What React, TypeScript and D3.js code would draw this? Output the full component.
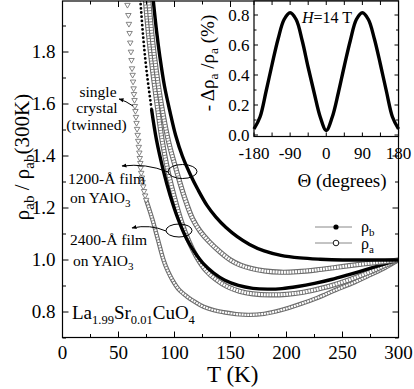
import * as d3 from "d3";

// main panel: rho / rho(300K) against T
const tTicks = [0, 50, 100, 150, 200, 250, 300];
const tMinor = [25, 75, 125, 175, 225, 275];
const rTicks = [0.8, 1.0, 1.2, 1.4, 1.6, 1.8];
const rMinor = [0.7, 0.9, 1.1, 1.3, 1.5, 1.7, 1.9];

// 1200-A film, rho_b (filled) and rho_a (open)
const b1200T = [81, 84, 87, 91, 96, 101, 107, 114, 121, 129, 137, 146, 156, 167, 180, 195, 212, 230, 250, 275, 300];
const b1200R = [2.0, 1.88, 1.78, 1.67, 1.57, 1.48, 1.4, 1.33, 1.27, 1.21, 1.165, 1.125, 1.09, 1.06, 1.035, 1.018, 1.008, 1.003, 1.0, 1.0, 1.0];
const a1200T = [77, 80, 84, 89, 95, 102, 109, 116, 123, 131, 141, 150, 159, 168, 180, 195, 210, 227, 245, 265, 284, 300];
const a1200R = [2.0, 1.86, 1.72, 1.58, 1.45, 1.34, 1.24, 1.16, 1.11, 1.07, 1.03, 1.0, 0.98, 0.968, 0.958, 0.953, 0.955, 0.962, 0.972, 0.983, 0.992, 1.0];

// 2400-A film
const b2400T = [69.5, 72, 75, 79.5, 84, 90, 96, 103, 111, 118, 126, 135, 145, 157, 170, 183, 196, 210, 225, 240, 255, 270, 285, 300];
const b2400R = [2.0, 1.86, 1.73, 1.58, 1.46, 1.345, 1.25, 1.16, 1.08, 1.03, 0.985, 0.95, 0.922, 0.902, 0.891, 0.888, 0.89, 0.898, 0.91, 0.925, 0.943, 0.962, 0.981, 1.0];
const a2400T = [74, 77, 81, 85, 89, 94, 100, 106, 113, 120, 128, 137, 147, 158, 170, 185, 200, 215, 230, 245, 260, 275, 290, 300];
const a2400R = [2.0, 1.86, 1.71, 1.58, 1.46, 1.345, 1.24, 1.15, 1.07, 1.01, 0.96, 0.925, 0.898, 0.88, 0.87, 0.866, 0.868, 0.876, 0.89, 0.908, 0.93, 0.955, 0.983, 1.0];

// single crystal (twinned): sparse triangles at the steep part, then dense points
const scTriT = [58.0, 58.8, 59.3, 59.9, 60.5, 61.1, 61.6, 62.1, 62.6, 63.0, 63.5, 63.8, 64.3, 64.6, 65.1, 65.6, 66.1, 66.6, 67.1, 67.6, 68.1, 68.6, 69.0, 69.5, 69.8, 70.3, 70.9, 71.5, 72.1, 72.8, 73.8, 74.7];
const scTriR = [1.981, 1.942, 1.908, 1.873, 1.836, 1.801, 1.769, 1.737, 1.712, 1.686, 1.66, 1.638, 1.615, 1.592, 1.573, 1.55, 1.527, 1.504, 1.481, 1.458, 1.435, 1.413, 1.392, 1.373, 1.354, 1.335, 1.317, 1.3, 1.283, 1.265, 1.248, 1.231];
const scT = [74.7, 77.7, 80.4, 85.3, 90.2, 94, 98.2, 104, 111.3, 119, 126, 135, 144, 155, 166, 180, 195, 212, 228, 244, 260, 275, 288, 300];
const scR = [1.231, 1.192, 1.154, 1.077, 1.0, 0.958, 0.923, 0.886, 0.859, 0.837, 0.82, 0.807, 0.799, 0.792, 0.789, 0.793, 0.807, 0.83, 0.855, 0.885, 0.913, 0.943, 0.97, 1.0];

// inset: -drho_a/rho_a (%) against field angle at H = 14 T
const thetaTicks = [-180, -90, 0, 90, 180];
const thetaMinor = [-135, -45, 45, 135];
const dTicks = [0, 0.2, 0.4, 0.6, 0.8];
const dMinor = [0.1, 0.3, 0.5, 0.7];
const theta = [-180, -165, -150, -135, -120, -105, -90, -75, -60, -45, -30, -15, 0, 15, 30, 45, 60, 75, 90, 105, 120, 135, 150, 165, 180];
const dRho = [0.04, 0.12, 0.29, 0.47, 0.64, 0.77, 0.815, 0.77, 0.63, 0.45, 0.28, 0.12, 0.03, 0.12, 0.28, 0.46, 0.63, 0.77, 0.815, 0.77, 0.64, 0.47, 0.29, 0.12, 0.04];

const FONT = "'Liberation Serif', 'Times New Roman', 'DejaVu Serif', serif";

function zip(a: number[], b: number[]): [number, number][] {
  return a.map((v, i) => [v, b[i]]);
}

export default function App() {
  const W = 414, H = 389;
  const L = 62.5, R = 398.5, T0 = 1, B = 337.5;
  const x = d3.scaleLinear().domain([0, 300]).range([L, R]);
  const y = d3.scaleLinear().domain([0.7, 2.0]).range([338, 0]);

  const line = d3.line<[number, number]>()
    .x(d => x(d[0]))
    .y(d => y(d[1]))
    .curve(d3.curveCatmullRom.alpha(0.5));

  // inset scales
  const iL = 254, iR = 398.5, iT = 1, iB = 136.5;
  const ix = d3.scaleLinear().domain([-180, 180]).range([iL, iR]);
  const iy = d3.scaleLinear().domain([0, 0.8]).range([135, 15]);
  const iline = d3.line<[number, number]>()
    .x(d => ix(d[0]))
    .y(d => iy(d[1]))
    .curve(d3.curveCatmullRom.alpha(0.5));

  const tri = d3.symbol().type(d3.symbolTriangle).size(13)();

  const openChain = (pts: [number, number][], w: number) => {
    const p = line(pts) || "";
    return (
      <g>
        <path d={p} fill="none" stroke="#6c6c6c" strokeWidth={w} />
        <path d={p} fill="none" stroke="#fff" strokeWidth={w - 2.2} strokeDasharray="2 0.8" />
      </g>
    );
  };

  // filled-dot series: sparse dots where the curve is steep, solid below
  const b2400 = zip(b2400T, b2400R);
  const b2400Top = b2400.filter(d => d[1] >= 1.58);
  const b2400Low = b2400.filter(d => d[1] <= 1.58);

  return (
    <svg width={W} height={H}
      style={{ position: "absolute", left: 0, top: 0, background: "#fff", fontFamily: FONT }}>
      <defs>
        <clipPath id="main">
          <rect x={L} y={T0} width={R - L} height={B - T0} />
        </clipPath>
        <marker id="ah" viewBox="0 0 10 10" refX="9" refY="5" markerWidth="5" markerHeight="5" orient="auto">
          <path d="M0,1 L10,5 L0,9 z" fill="#000" />
        </marker>
      </defs>

      {/* curves */}
      <g clipPath="url(#main)">
        {openChain(zip(scT, scR), 4.4)}
        {zip(scTriT, scTriR).map((d, i) => (
          <path key={i} d={tri} transform={`translate(${x(d[0])},${y(d[1])}) rotate(180)`}
            fill="#fff" stroke="#666" strokeWidth={0.8} />
        ))}
        {openChain(zip(a2400T, a2400R), 5.2)}
        <path d={line(b2400Top) || ""} fill="none" stroke="#000" strokeWidth={2.8}
          strokeLinecap="round" strokeDasharray="0 4.2" />
        <path d={line(b2400Low) || ""} fill="none" stroke="#000" strokeWidth={3.4} />
        {openChain(zip(a1200T, a1200R), 5.2)}
        <path d={line(zip(b1200T, b1200R)) || ""} fill="none" stroke="#000" strokeWidth={3.4} />
      </g>

      {/* frame and ticks */}
      <rect x={L} y={T0} width={R - L} height={B - T0} fill="none" stroke="#000" strokeWidth={1.2} />
      {tTicks.map(t => (
        <g key={"tx" + t}>
          <line x1={x(t)} x2={x(t)} y1={B} y2={B - 6} stroke="#000" />
          <line x1={x(t)} x2={x(t)} y1={T0} y2={T0 + 6} stroke="#000" />
          <text x={x(t)} y={358.5} fontSize={19} textAnchor="middle">{t}</text>
        </g>
      ))}
      {tMinor.map(t => (
        <g key={"tm" + t}>
          <line x1={x(t)} x2={x(t)} y1={B} y2={B - 3.5} stroke="#000" />
          <line x1={x(t)} x2={x(t)} y1={T0} y2={T0 + 3.5} stroke="#000" />
        </g>
      ))}
      {rTicks.map(r => (
        <g key={"ry" + r}>
          <line x1={L} x2={L + 6} y1={y(r)} y2={y(r)} stroke="#000" />
          <line x1={R} x2={R - 6} y1={y(r)} y2={y(r)} stroke="#000" />
          <text x={55.5} y={y(r) + 6} fontSize={19} textAnchor="end">{r.toFixed(1)}</text>
        </g>
      ))}
      {rMinor.map(r => (
        <g key={"rm" + r}>
          <line x1={L} x2={L + 3.5} y1={y(r)} y2={y(r)} stroke="#000" />
          <line x1={R} x2={R - 3.5} y1={y(r)} y2={y(r)} stroke="#000" />
        </g>
      ))}

      {/* axis titles */}
      <text x={207} y={382} fontSize={23}>T  (K)</text>
      <text transform="translate(29,157) rotate(-90)" fontSize={21} textAnchor="middle">
        ρ<tspan fontSize={15} dy={5}>ab</tspan><tspan dy={-5}> / ρ</tspan><tspan fontSize={15} dy={5}>ab</tspan><tspan dy={-5}>(300K)</tspan>
      </text>

      {/* annotations */}
      <g fontSize={15.5}>
        <text x={98} y={97} textAnchor="middle">single</text>
        <text x={97} y={113} textAnchor="middle">crystal</text>
        <text x={96.5} y={130} textAnchor="middle">(twinned)</text>
        <text x={68} y={184}>1200-Å film</text>
        <text x={70} y={203}>on YAlO<tspan fontSize={11} dy={4}>3</tspan></text>
        <text x={70} y={245}>2400-Å film</text>
        <text x={73} y={266}>on YAlO<tspan fontSize={11} dy={4}>3</tspan></text>
      </g>
      <path d="M133,106 Q126,101 119,99" fill="none" stroke="#000" strokeWidth={1} markerEnd="url(#ah)" />
      <ellipse cx={182.5} cy={171.5} rx={14.5} ry={7} fill="none" stroke="#000" strokeWidth={1} />
      <path d="M168,172 Q146,163 122,166" fill="none" stroke="#000" strokeWidth={1} markerEnd="url(#ah)" />
      <ellipse cx={179} cy={230.5} rx={13} ry={6.5} fill="none" stroke="#000" strokeWidth={1} />
      <path d="M166,231 Q150,224 132,228" fill="none" stroke="#000" strokeWidth={1} markerEnd="url(#ah)" />
      <text x={72} y={319} fontSize={19}>
        La<tspan fontSize={12.5} dy={5}>1.99</tspan><tspan dy={-5}>Sr</tspan><tspan fontSize={12.5} dy={5}>0.01</tspan><tspan dy={-5}>CuO</tspan><tspan fontSize={12.5} dy={5}>4</tspan>
      </text>

      {/* legend */}
      <line x1={315} x2={352} y1={227} y2={227} stroke="#888" strokeWidth={1} />
      <circle cx={336} cy={227} r={2.6} fill="#000" />
      <text x={361} y={231.5} fontSize={16}>ρ<tspan fontSize={11} dy={4}>b</tspan></text>
      <line x1={315} x2={352} y1={243} y2={243} stroke="#888" strokeWidth={1} />
      <circle cx={336} cy={243} r={2.8} fill="#fff" stroke="#000" strokeWidth={0.9} />
      <text x={361} y={249} fontSize={16}>ρ<tspan fontSize={11} dy={4}>a</tspan></text>

      {/* inset */}
      <rect x={iL} y={iT} width={iR - iL} height={iB - iT} fill="#fff" />
      <path d={iline(zip(theta, dRho)) || ""} fill="none" stroke="#000" strokeWidth={3.4} />
      <rect x={iL} y={iT} width={iR - iL} height={iB - iT} fill="none" stroke="#000" strokeWidth={1.2} />
      {thetaTicks.concat(thetaMinor).map(t => (
        <g key={"it" + t}>
          <line x1={ix(t)} x2={ix(t)} y1={iB} y2={iB - 4} stroke="#000" />
          <line x1={ix(t)} x2={ix(t)} y1={iT} y2={iT + 4} stroke="#000" />
        </g>
      ))}
      {thetaTicks.map(t => (
        <text key={"itl" + t} x={ix(t)} y={159} fontSize={17} textAnchor="middle">{t}</text>
      ))}
      {dTicks.map(v => (
        <g key={"id" + v}>
          <line x1={iL} x2={iL + 4} y1={iy(v)} y2={iy(v)} stroke="#000" />
          <line x1={iR} x2={iR - 4} y1={iy(v)} y2={iy(v)} stroke="#000" />
          <text x={249.5} y={iy(v) + 5.5} fontSize={17} textAnchor="end">{v.toFixed(1)}</text>
        </g>
      ))}
      {dMinor.map(v => (
        <g key={"idm" + v}>
          <line x1={iL} x2={iL + 2.5} y1={iy(v)} y2={iy(v)} stroke="#000" />
          <line x1={iR} x2={iR - 2.5} y1={iy(v)} y2={iy(v)} stroke="#000" />
        </g>
      ))}
      <text x={342} y={187} fontSize={19} textAnchor="middle">Θ (degrees)</text>
      <text transform="translate(214,63) rotate(-90)" fontSize={19} textAnchor="middle">
        - Δρ<tspan fontSize={13.5} dy={4}>a</tspan><tspan dy={-4}> /ρ</tspan><tspan fontSize={13.5} dy={4}>a</tspan><tspan dy={-4}> (%)</tspan>
      </text>
      <text x={302} y={23} fontSize={16}><tspan fontStyle="italic">H</tspan>=14 T</text>
    </svg>
  );
}
